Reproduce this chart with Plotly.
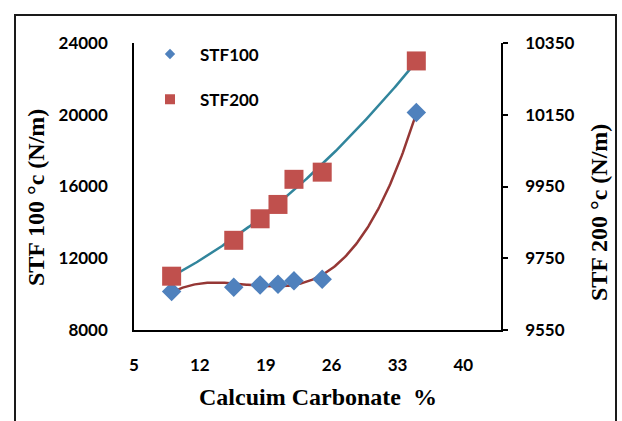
import numpy as np
import plotly.graph_objects as go

# Data
calcium_carbonate = [9, 15.6, 18.4, 20.3, 22, 25, 35]
stf100 = [10140, 10380, 10510, 10550, 10750, 10830, 20120]
stf200 = [9700, 9800, 9860, 9900, 9970, 9990, 10300]

x_ticks = [5, 12, 19, 26, 33, 40]
y1_ticks = [8000, 12000, 16000, 20000, 24000]
y2_ticks = [9550, 9750, 9950, 10150, 10350]

BLUE = "#4F81BD"
RED = "#C0504D"
TEAL = "#31859C"
DARKRED = "#953735"

# Trendlines (as Excel polynomial trendlines)
xs = np.linspace(min(calcium_carbonate), max(calcium_carbonate), 200)
p100 = np.polyfit(calcium_carbonate, stf100, 3)
p200 = np.polyfit(calcium_carbonate, stf200, 2)

fig = go.Figure()

fig.add_trace(go.Scatter(x=xs, y=np.polyval(p100, xs), mode="lines",
                         line=dict(color=DARKRED, width=2.5), showlegend=False,
                         hoverinfo="skip"))
fig.add_trace(go.Scatter(x=xs, y=np.polyval(p200, xs), mode="lines", yaxis="y2",
                         line=dict(color=TEAL, width=2.5), showlegend=False,
                         hoverinfo="skip"))
fig.add_trace(go.Scatter(x=calcium_carbonate, y=stf100, mode="markers",
                         marker=dict(symbol="diamond", size=15, color=BLUE),
                         showlegend=False))
fig.add_trace(go.Scatter(x=calcium_carbonate, y=stf200, mode="markers", yaxis="y2",
                         marker=dict(symbol="square", size=19, color=RED),
                         showlegend=False))

# legend entries
fig.add_trace(go.Scatter(x=[None], y=[None], mode="markers", name="STF100",
                         marker=dict(symbol="diamond", size=8, color=BLUE),
                         legendgroup="a"))
fig.add_trace(go.Scatter(x=[None], y=[None], mode="markers", name="STF200",
                         marker=dict(symbol="square", size=10, color=RED),
                         legendgroup="b"))

tickfont = dict(family="Lato", size=17, color="black", weight="bold")
titlefont = dict(family="Liberation Serif", size=24, color="black", weight="bold")

L, R, T, B = 134, 121, 43, 91
W, H = 622, 421
pw = W - L - R
ph = H - T - B

def px(x):
    return (x - L) / pw

def py(y):
    return (H - B - y) / ph

fig.update_layout(
    width=W, height=H, autosize=False,
    margin=dict(l=L, r=R, t=T, b=B, pad=0),
    paper_bgcolor="white", plot_bgcolor="white",
    xaxis=dict(range=[5, 44], tickvals=x_ticks, ticktext=[str(v) for v in x_ticks],
               showgrid=False, zeroline=False,
               showline=True, linecolor="black", linewidth=1.5, ticks="",
               tickfont=tickfont, ticklabelstandoff=19),
    yaxis=dict(range=[8000, 24000], tickvals=y1_ticks, ticktext=[str(v) for v in y1_ticks],
               showgrid=False, zeroline=False,
               showline=True, linecolor="black", linewidth=1.5, ticks="",
               tickfont=tickfont, ticklabelstandoff=21),
    yaxis2=dict(range=[9550, 10350], tickvals=y2_ticks, ticktext=[str(v) for v in y2_ticks],
                overlaying="y", side="right",
                showgrid=False, zeroline=False, showline=True, linecolor="black",
                linewidth=1.5, ticks="outside", ticklen=5, tickwidth=1.5,
                tickcolor="black", tickfont=tickfont, ticklabelstandoff=14),
    legend=dict(x=px(140), y=py(36.5), xanchor="left", yanchor="top",
                font=dict(family="Lato", size=17, color="black", weight="bold"),
                bgcolor="rgba(0,0,0,0)", tracegroupgap=20, itemwidth=50),
    shapes=[dict(type="rect", xref="paper", yref="paper",
                 x0=px(15), x1=px(616), y0=py(445), y1=py(15),
                 line=dict(color="#1a1a1a", width=2))],
    annotations=[
        dict(text="STF 100 °c (N/m)", xref="paper", yref="paper", x=px(36), y=py(198),
             textangle=-90, showarrow=False, font=titlefont, xanchor="center", yanchor="middle"),
        dict(text="STF 200 °c (N/m)", xref="paper", yref="paper", x=px(599), y=py(213),
             textangle=-90, showarrow=False, font=titlefont, xanchor="center", yanchor="middle"),
        dict(text="Calcuim Carbonate  %", xref="paper", yref="paper", x=px(318), y=py(397),
             showarrow=False, font=titlefont, xanchor="center", yanchor="middle"),
    ],
)

fig.write_html("out.html", config={"displayModeBar": False},
               post_script="document.body.style.margin='0';")
